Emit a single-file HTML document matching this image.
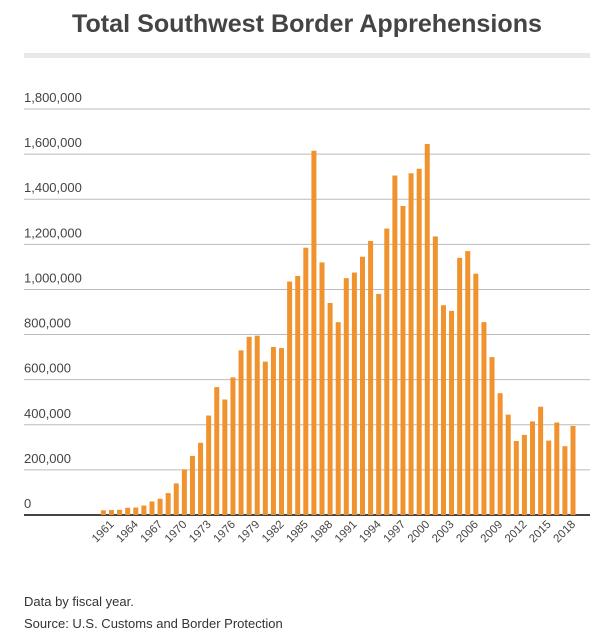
<!DOCTYPE html>
<html><head><meta charset="utf-8"><style>
body{margin:0;background:#fff;width:606px;height:640px;overflow:hidden;font-family:"Liberation Sans",sans-serif;}
svg{display:block}
</style></head><body>
<svg width="606" height="640">
<text x="307" y="32" text-anchor="middle" font-size="25" font-weight="bold" fill="#444" textLength="470" lengthAdjust="spacingAndGlyphs">Total Southwest Border Apprehensions</text>
<rect x="24" y="53" width="566" height="5" fill="#e8e8e8"/>
<g id="grid"></g>
<g id="bars"></g>
<g id="xl"></g>
<text x="24" y="606" font-size="13" fill="#333">Data by fiscal year.</text>
<text x="24" y="628" font-size="13" fill="#333">Source: U.S. Customs and Border Protection</text>
</svg>
<script>
const years=[];for(let y=1960;y<=2018;y++)years.push(y);
const values=[21000,22000,23000,32000,33000,42000,60000,72000,97000,140000,202000,262000,320000,441000,567000,512000,610000,730000,790000,795000,680000,745000,740000,1035000,1060000,1185000,1615000,1120000,940000,855000,1050000,1075000,1145000,1215000,980000,1270000,1505000,1370000,1515000,1535000,1645000,1235000,930000,905000,1140000,1170000,1070000,855000,700000,540000,445000,328000,355000,415000,480000,330000,410000,305000,395000];
const yTicks=[0,200000,400000,600000,800000,1000000,1200000,1400000,1600000,1800000];
const xTickYears=[1961,1964,1967,1970,1973,1976,1979,1982,1985,1988,1991,1994,1997,2000,2003,2006,2009,2012,2015,2018];
const NS='http://www.w3.org/2000/svg';
const x0=103.4,x1=573,base=515,yTop=109,ymax=1800000;
const sx=y=>x0+(y-years[0])*(x1-x0)/(years.length-1);
const sy=v=>base-(v/ymax)*(base-yTop);
const g=document.getElementById('grid'),b=document.getElementById('bars'),xl=document.getElementById('xl');
yTicks.forEach(t=>{
 const l=document.createElementNS(NS,'line');
 l.setAttribute('x1',24);l.setAttribute('x2',590);l.setAttribute('y1',sy(t));l.setAttribute('y2',sy(t));
 l.setAttribute('stroke',t===0?'#444':'#bbb');l.setAttribute('stroke-width',t===0?2:1);
 
 
 g.appendChild(l);
 const tx=document.createElementNS(NS,'text');
 tx.setAttribute('x',24);tx.setAttribute('y',sy(t)-7);tx.setAttribute('font-size','13');tx.setAttribute('fill','#444');
 tx.textContent=t.toLocaleString('en-US');
 
 
 g.appendChild(tx);
});
years.forEach((y,i)=>{
 const r=document.createElementNS(NS,'rect');
 const w=5;
 r.setAttribute('x',sx(y)-w/2);r.setAttribute('y',sy(values[i]));r.setAttribute('width',w);r.setAttribute('height',base-sy(values[i]));
 r.setAttribute('fill','#f0932f');
 
 
 b.appendChild(r);
});
xTickYears.forEach(y=>{
 const t=document.createElementNS(NS,'text');
 const x=sx(y)+3,yy=base+10;
 t.setAttribute('x',x);t.setAttribute('y',yy);t.setAttribute('font-size','11.5');t.setAttribute('fill','#444');
 t.setAttribute('text-anchor','end');t.setAttribute('transform','rotate(-45 '+x+' '+yy+')');
 t.textContent=y;
 
 
 xl.appendChild(t);
});
</script>
</body></html>
